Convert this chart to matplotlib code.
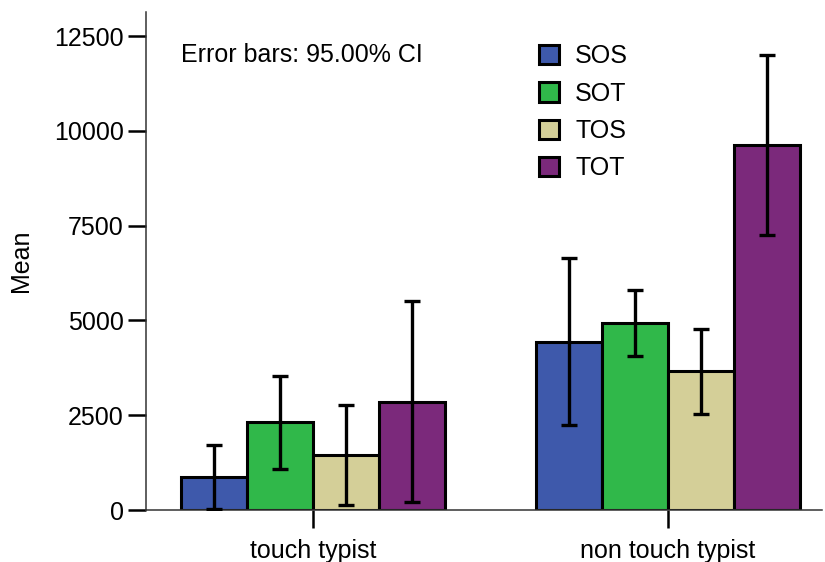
import matplotlib.pyplot as plt
import numpy as np

plt.rcParams['font.family'] = ['Liberation Sans', 'DejaVu Sans']

groups = ['touch typist', 'non touch typist']
series = ['SOS', 'SOT', 'TOS', 'TOT']
colors = ['#3E59AB', '#30B84A', '#D4CF98', '#7B297B']

# means and 95% CI bounds, per series: [touch, non touch]
means = {'SOS': [880, 4440], 'SOT': [2310, 4925], 'TOS': [1450, 3655], 'TOT': [2860, 9625]}
ci_low = {'SOS': [30, 2240], 'SOT': [1090, 4060], 'TOS': [130, 2530], 'TOT': [200, 7260]}
ci_high = {'SOS': [1720, 6645], 'SOT': [3535, 5800], 'TOS': [2760, 4780], 'TOT': [5520, 12010]}

fs = 18

fig = plt.figure(figsize=(8.25, 5.62), dpi=100)
ax = fig.add_axes([0.177, 0.0925, 0.8194, 0.886])

x = np.arange(len(groups))
width = 0.186
for i, s in enumerate(series):
    m = np.array(means[s])
    err = [m - np.array(ci_low[s]), np.array(ci_high[s]) - m]
    ax.bar(x + (i - 1.5) * width, m, width, color=colors[i], edgecolor='black',
           linewidth=2.2, label=s, zorder=2,
           yerr=err, error_kw=dict(ecolor='black', elinewidth=2.4, capsize=6, capthick=2.4, zorder=3))

ax.set_xlim(-0.470, 1.434)
ax.set_ylim(0, 13133)
ax.set_yticks([0, 2500, 5000, 7500, 10000, 12500])
ax.set_xticks(x)
ax.set_xticklabels(groups)
ax.set_ylabel('Mean', fontsize=fs, labelpad=15)

for sp in ['top', 'right']:
    ax.spines[sp].set_visible(False)
for sp in ['left', 'bottom']:
    ax.spines[sp].set_linewidth(1.1)
    ax.spines[sp].set_color('#333333')
ax.tick_params(axis='y', length=13, width=1.8, labelsize=fs, pad=3)
ax.tick_params(axis='x', length=13, width=1.8, labelsize=fs, pad=8)

ax.text(0.052, 0.914, 'Error bars: 95.00% CI', transform=ax.transAxes,
        fontsize=fs, va='center', ha='left')

leg = ax.legend(loc='upper left', bbox_to_anchor=(0.567, 0.955), frameon=False,
                fontsize=fs, handlelength=0.8, handleheight=0.8,
                handletextpad=0.63, labelspacing=0.53, borderaxespad=0)
for h in leg.legend_handles:
    h.set_linewidth(2.2)

fig.savefig('out.png', dpi=100)
